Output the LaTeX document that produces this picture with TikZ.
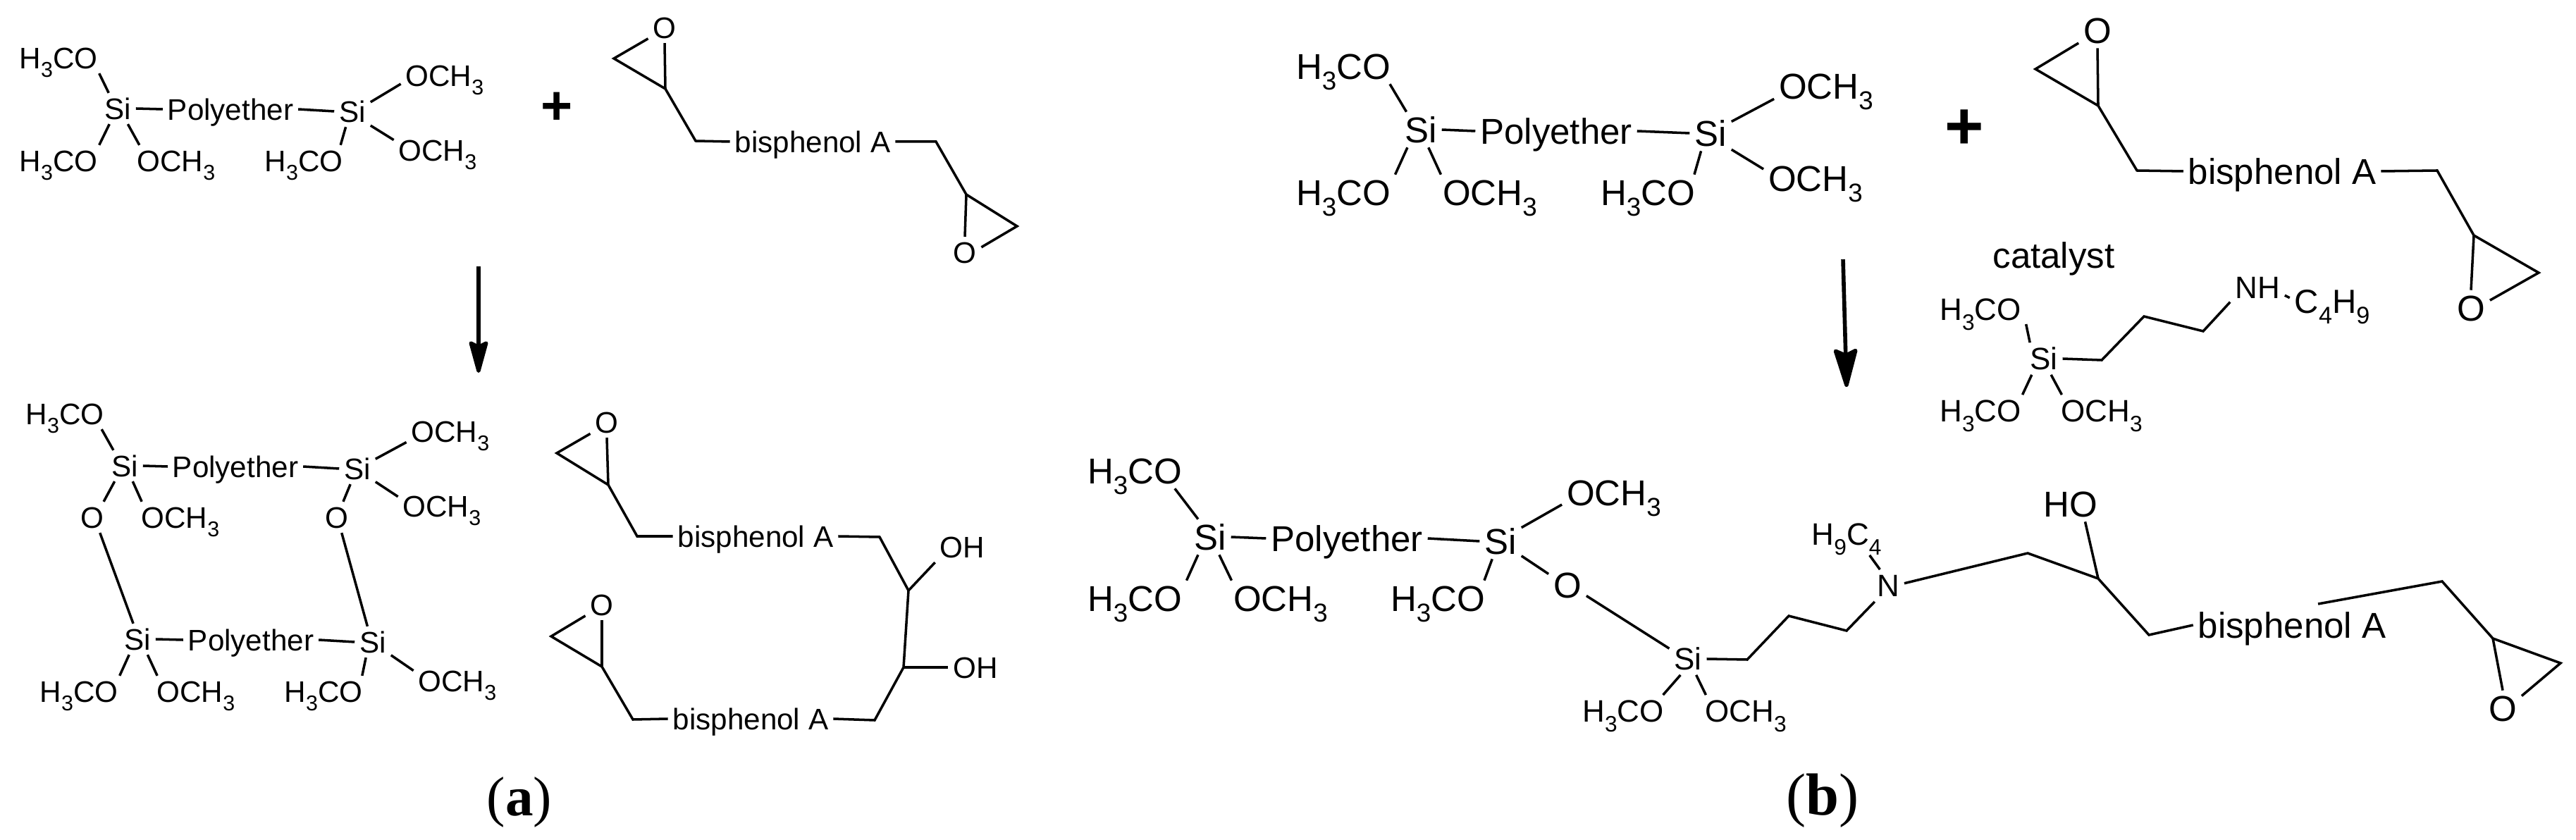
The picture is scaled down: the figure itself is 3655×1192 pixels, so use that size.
\documentclass[tikz,border=0pt]{standalone}
\usepackage{fontspec}
\setmainfont{Liberation Sans}
\newfontfamily\capfont{Liberation Serif}
\usetikzlibrary{arrows.meta}
\newcommand{\sbs}[1]{\raisebox{-.3em}{\scalebox{.72}{#1}}}
\newcommand{\hco}{H\sbs{3}CO}
\newcommand{\och}{OCH\sbs{3}}
\tikzset{
	atomA/.style={font=\fontsize{12}{12}\selectfont, text height=8.6pt, text depth=0pt, inner sep=0pt, outer sep=2pt},
	atomB/.style={font=\fontsize{14.5}{14.5}\selectfont, text height=10.4pt, text depth=0pt, inner sep=0pt, outer sep=2pt},
	atomC/.style={font=\fontsize{12.5}{12.5}\selectfont, text height=9pt, text depth=0pt, inner sep=0pt, outer sep=2pt},
	bond/.style={line width=1pt},
	yieldsA/.style={line width=1.5pt, -{Stealth[length=.54cm, width=.29cm, inset=.07cm, round]}},
	yieldsB/.style={line width=1.6pt, -{Stealth[length=.63cm, width=.36cm, inset=.08cm, round]}}
}
\begin{document}
\begin{tikzpicture}[x=0.01cm, y=-0.01cm]
	\useasboundingbox (0, 0) rectangle (3655, 1192);

	% (a) reactants
	\node[atomA] (a1si) at (167, 154) {Si};
	\node[atomA] (a2si) at (500, 158) {Si};
	\node[atomA] (a1poly) at (327, 155) {Polyether};
	\node[atomA] (a1hco) at (83, 82) {\hco};
	\node[atomA] (a1hcoB) at (83, 228) {\hco};
	\node[atomA] (a1och) at (250, 228) {\och};
	\node[atomA] (a2och) at (631, 107) {\och};
	\node[atomA] (a2ochB) at (621, 213) {\och};
	\node[atomA] (a2hco) at (431, 228) {\hco};
	\draw[bond] (a1si.120) -- (a1hco.-21);
	\draw[bond] (a1si.242) -- (a1hcoB.21);
	\draw[bond] (a1si.303) -- (a1och.157);
	\draw[bond] (a1si.east) -- (a1poly.west);
	\draw[bond] (a1poly.east) -- (a2si.west);
	\draw[bond] (a2si.27) -- (a2och.191);
	\draw[bond] (a2si.-38) -- (a2ochB.167);
	\draw[bond] (a2si.-113) -- (a2hco.23);
	\node[font=\bfseries\fontsize{22}{22}\selectfont] (a1plus) at (790, 154) {+};

	\node[atomA] (e1o) at (943, 39) {O};
	\node[atomA] (e1oB) at (1369, 358) {O};
	\node[atomA] (e1bis) at (1153, 201) {bisphenol A};
	\coordinate (e1l) at (871, 83);
	\coordinate (e1b) at (944, 126);
	\coordinate (e1c) at (987, 200);
	\coordinate (e1d) at (1328, 201);
	\coordinate (e1f) at (1371, 276);
	\coordinate (e1r) at (1443, 321);
	\draw[bond] (e1o.214) -- (e1l) -- (e1b) -- (e1c) -- (e1bis.west);
	\draw[bond] (e1o.south) -- (e1b);
	\draw[bond] (e1bis.east) -- (e1d) -- (e1f) -- (e1r) -- (e1oB.17);
	\draw[bond] (e1f) -- (e1oB.north);

	\coordinate (a1top) at (679, 378);
	\coordinate (a1tip) at (679, 529);
	\draw[yieldsA] (a1top) -- (a1tip);

	% (a) products
	\node[atomA] (a3si) at (177, 661) {Si};
	\node[atomA] (a4si) at (507, 665) {Si};
	\node[atomA] (a5si) at (195, 907) {Si};
	\node[atomA] (a6si) at (529, 911) {Si};
	\node[atomA] (a3poly) at (334, 662) {Polyether};
	\node[atomA] (a5poly) at (356, 908) {Polyether};
	\node[atomA] (a3hco) at (92, 587) {\hco};
	\node[atomA] (a3o) at (131, 734) {O};
	\node[atomA] (a3och) at (256, 734) {\och};
	\node[atomA] (a4och) at (639, 612) {\och};
	\node[atomA] (a4ochB) at (627, 718) {\och};
	\node[atomA] (a4o) at (478, 734) {O};
	\node[atomA] (a5hco) at (112, 981) {\hco};
	\node[atomA] (a5och) at (278, 981) {\och};
	\node[atomA] (a6hco) at (459, 981) {\hco};
	\node[atomA] (a6och) at (649, 966) {\och};
	\draw[bond] (a3si.126) -- (a3hco.-23);
	\draw[bond] (a3si.237) -- (a3o.54);
	\draw[bond] (a3si.-63) -- (a3och.158);
	\draw[bond] (a3si.east) -- (a3poly.west);
	\draw[bond] (a3poly.east) -- (a4si.west);
	\draw[bond] (a4si.28) -- (a4och.194);
	\draw[bond] (a4si.-36) -- (a4ochB.168);
	\draw[bond] (a4si.246) -- (a4o.68);
	\draw[bond] (a3o.-64) -- (a5si.105);
	\draw[bond] (a4o.-73) -- (a6si.109);
	\draw[bond] (a5si.east) -- (a5poly.west);
	\draw[bond] (a5poly.east) -- (a6si.west);
	\draw[bond] (a5si.242) -- (a5hco.21);
	\draw[bond] (a5si.-57) -- (a5och.158);
	\draw[bond] (a6si.246) -- (a6hco.22);
	\draw[bond] (a6si.-36) -- (a6och.167);

	\node[atomA] (e2o) at (861, 599) {O};
	\node[atomA] (e2bis) at (1072, 761) {bisphenol A};
	\node[atomA] (e2oh) at (1365, 776) {OH};
	\node[atomA] (e3oh) at (1384, 947) {OH};
	\node[atomA] (e3bis) at (1065, 1020) {bisphenol A};
	\node[atomA] (e3o) at (854, 858) {O};
	\coordinate (e2l) at (790, 643);
	\coordinate (e2b) at (863, 688);
	\coordinate (e2c) at (904, 761);
	\coordinate (e2d) at (1248, 762);
	\coordinate (e2e) at (1289, 838);
	\coordinate (e2f) at (1282, 947);
	\coordinate (e3g) at (1241, 1022);
	\coordinate (e3c) at (898, 1021);
	\coordinate (e3b) at (854, 946);
	\coordinate (e3l) at (782, 903);
	\draw[bond] (e2o.215) -- (e2l) -- (e2b) -- (e2c) -- (e2bis.west);
	\draw[bond] (e2o.south) -- (e2b);
	\draw[bond] (e2bis.east) -- (e2d) -- (e2e) -- (e2f) -- (e3g) -- (e3bis.east);
	\draw[bond] (e2e) -- (e2oh.210);
	\draw[bond] (e2f) -- (e3oh.west);
	\draw[bond] (e3bis.west) -- (e3c) -- (e3b) -- (e3l) -- (e3o.214);
	\draw[bond] (e3o.south) -- (e3b);

	\node[font=\capfont\fontsize{22.5}{22.5}\selectfont] (acap) at (737, 1138) {(\textbf{a})};

	% (b) reactants
	\node[atomB] (b1si) at (2016, 184) {Si};
	\node[atomB] (b2si) at (2427, 189) {Si};
	\node[atomB] (b1poly) at (2208, 186) {Polyether};
	\node[atomB] (b1hco) at (1906, 94) {\hco};
	\node[atomB] (b1hcoB) at (1906, 273) {\hco};
	\node[atomB] (b1och) at (2114, 273) {\och};
	\node[atomB] (b2och) at (2591, 122) {\och};
	\node[atomB] (b2ochB) at (2576, 253) {\och};
	\node[atomB] (b2hco) at (2338, 273) {\hco};
	\draw[bond] (b1si.129) -- (b1hco.-21);
	\draw[bond] (b1si.233) -- (b1hcoB.19);
	\draw[bond] (b1si.-67) -- (b1och.160);
	\draw[bond] (b1si.east) -- (b1poly.west);
	\draw[bond] (b1poly.east) -- (b2si.west);
	\draw[bond] (b2si.29) -- (b2och.194);
	\draw[bond] (b2si.-38) -- (b2ochB.170);
	\draw[bond] (b2si.242) -- (b2hco.21);
	\node[font=\bfseries\fontsize{27}{27}\selectfont] (b1plus) at (2787, 184) {+};

	\node[atomB] (f1o) at (2976, 43) {O};
	\node[atomB] (f1oB) at (3506, 437) {O};
	\node[atomB] (f1bis) at (3238, 243) {bisphenol A};
	\coordinate (f1l) at (2888, 98);
	\coordinate (f1b) at (2977, 150);
	\coordinate (f1c) at (3032, 242);
	\coordinate (f1d) at (3458, 242);
	\coordinate (f1f) at (3510, 334);
	\coordinate (f1r) at (3602, 387);
	\draw[bond] (f1o.214) -- (f1l) -- (f1b) -- (f1c) -- (f1bis.west);
	\draw[bond] (f1o.south) -- (f1b);
	\draw[bond] (f1bis.east) -- (f1d) -- (f1f) -- (f1r) -- (f1oB.22);
	\draw[bond] (f1f) -- (f1oB.north);

	\coordinate (b1top) at (2615, 368);
	\coordinate (b1tip) at (2620, 549);
	\draw[yieldsB] (b1top) -- (b1tip);

	% catalyst
	\node[atomB] (catname) at (2914, 362) {catalyst};
	\node[atomC] (c1si) at (2900, 509) {Si};
	\node[atomC] (c1hco) at (2810, 439) {\hco};
	\node[atomC] (c1hcoB) at (2810, 583) {\hco};
	\node[atomC] (c1och) at (2982, 583) {\och};
	\node[atomC] (c1nh) at (3203, 408) {NH};
	\node[atomC, font=\fontsize{13.5}{13.5}\selectfont] (c1but) at (3309, 429) {C\sbs{4}H\sbs{9}};
	\coordinate (c1a) at (2982, 511);
	\coordinate (c1e) at (3042, 449);
	\coordinate (c1f) at (3126, 470);
	\draw[bond] (c1si.131) -- (c1hco.-18);
	\draw[bond] (c1si.233) -- (c1hcoB.21);
	\draw[bond] (c1si.-66) -- (c1och.158);
	\draw[bond] (c1si.east) -- (c1a) -- (c1e) -- (c1f) -- (c1nh.208);
	\draw[bond] (c1nh.-16) -- (c1but.174);

	% (b) product
	\node[atomB] (b3si) at (1717, 762) {Si};
	\node[atomB] (b3poly) at (1911, 764) {Polyether};
	\node[atomB] (b4si) at (2129, 768) {Si};
	\node[atomB] (b3hco) at (1610, 668) {\hco};
	\node[atomB] (b3hcoB) at (1610, 849) {\hco};
	\node[atomB] (b3och) at (1817, 849) {\och};
	\node[atomB] (b4och) at (2290, 699) {\och};
	\node[atomB] (b4hco) at (2040, 849) {\hco};
	\node[atomB] (b4o) at (2224, 830) {O};
	\node[atomC] (b5si) at (2395, 935) {Si};
	\node[atomC] (b5hco) at (2303, 1009) {\hco};
	\node[atomC] (b5och) at (2477, 1009) {\och};
	\node[atomC] (b5hc) at (2620, 758) {H\sbs{9}C\sbs{4}};
	\node[atomC] (b5n) at (2679, 831) {N};
	\node[atomB] (b5ho) at (2938, 715) {HO};
	\node[atomB] (b5bis) at (3252, 887) {bisphenol A};
	\node[atomB] (b5o) at (3551, 1005) {O};
	\coordinate (b5a) at (2479, 936);
	\coordinate (b5b) at (2538, 874);
	\coordinate (b5c) at (2620, 895);
	\coordinate (b5d) at (2877, 785);
	\coordinate (b5e) at (2977, 821);
	\coordinate (b5f) at (3049, 901);
	\coordinate (b5g) at (3289, 857);
	\coordinate (b5h) at (3465, 825);
	\coordinate (b5j) at (3537, 906);
	\coordinate (b5k) at (3633, 941);
	\draw[bond] (b3si.124) -- (b3hco.-24);
	\draw[bond] (b3si.236) -- (b3hcoB.19);
	\draw[bond] (b3si.-63) -- (b3och.160);
	\draw[bond] (b3si.east) -- (b3poly.west);
	\draw[bond] (b3poly.east) -- (b4si.west);
	\draw[bond] (b4si.33) -- (b4och.193);
	\draw[bond] (b4si.-35) -- (b4o.150);
	\draw[bond] (b4si.245) -- (b4hco.21);
	\draw[bond] (b4o.-30) -- (b5si.151);
	\draw[bond] (b5si.245) -- (b5hco.22);
	\draw[bond] (b5si.-63) -- (b5och.158);
	\draw[bond] (b5si.east) -- (b5a) -- (b5b) -- (b5c) -- (b5n.230);
	\draw[bond] ([yshift=-2pt]b5hc.-35) -- (b5n.117);
	\draw[bond] (b5n.8) -- (b5d) -- (b5e) -- (b5f) -- (b5bis.west);
	\draw[bond] (b5ho.-51) -- (b5e);
	\draw[bond] (b5g) -- (b5h) -- (b5j) -- (b5k) -- (b5o.33);
	\draw[bond] (b5j) -- (b5o.north);

	\node[font=\capfont\fontsize{24}{24}\selectfont] (bcap) at (2586, 1136) {(\textbf{b})};
\end{tikzpicture}
\end{document}
